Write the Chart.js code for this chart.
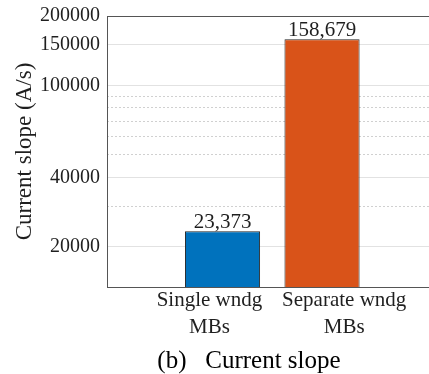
<!DOCTYPE html>
<html><head><meta charset="utf-8">
<script src="https://cdn.jsdelivr.net/npm/chart.js@4"></script>
<style>html,body{margin:0;padding:0;background:#fff;overflow:hidden}</style>
</head><body>
<canvas id="c" width="429" height="374"></canvas>
<script>
// ---- data ----
const categories = [['Single wndg', 'MBs'], ['Separate wndg', 'MBs']];
const slopes = [23373, 158679];
const yTicks = [20000, 40000, 100000, 150000, 200000];
const yMinorTicks = [30000, 50000, 60000, 70000, 80000, 90000];
const yRange = [13400, 200000];
const yTitle = 'Current slope (A/s)';
const caption = '(b)   Current slope';

// ---- styles ----
const SERIF = "'Liberation Serif', 'Times New Roman', serif";
const TXT = '#1f1f1f';
const AXIS = '#555555';
const barColors = ['#0072BD', '#D95319'];

const valueLabels = {
  id: 'valueLabels',
  afterDatasetsDraw(chart) {
    const ctx = chart.ctx;
    const meta = chart.getDatasetMeta(0);
    ctx.save();
    ctx.font = '21px ' + SERIF;
    ctx.fillStyle = TXT;
    ctx.textAlign = 'center';
    ctx.textBaseline = 'alphabetic';
    meta.data.forEach((bar, i) => {
      ctx.fillText(slopes[i].toLocaleString('en-US'), bar.x, bar.y - 3);
    });
    ctx.restore();
  }
};
const captionPlugin = {
  id: 'caption',
  afterDraw(chart) {
    const ctx = chart.ctx;
    ctx.save();
    ctx.font = '25px ' + SERIF;
    ctx.fillStyle = '#000';
    ctx.textAlign = 'center';
    ctx.textBaseline = 'alphabetic';
    ctx.fillText(caption, 249, 368);
    ctx.restore();
  }
};

const catTicks = s => { s.ticks = categories.map((c, i) => ({ value: i + 1 })); };

new Chart(document.getElementById('c'), {
  type: 'bar',
  data: {
    datasets: [{
      data: slopes.map((v, i) => ({ x: i + 1, y: v })),
      backgroundColor: barColors,
      borderColor: '#262626',
      borderWidth: 1,
      barPercentage: 0.755,
      categoryPercentage: 1.0,
      xAxisID: 'x',
      yAxisID: 'y'
    }]
  },
  options: {
    responsive: false,
    animation: false,
    devicePixelRatio: 1,
    layout: { padding: 0 },
    plugins: { legend: { display: false }, tooltip: { enabled: false } },
    scales: {
      x: {
        type: 'linear', display: false, offset: false, min: -0.161, max: 3.075,
        grid: { offset: false },
        afterBuildTicks: catTicks
      },
      xl: {
        type: 'linear', position: 'bottom', offset: false, min: 0.24, max: 2.629,
        afterBuildTicks: catTicks,
        ticks: {
          callback: (v, i) => categories[i],
          font: { family: SERIF, size: 21, lineHeight: 1.286 },
          color: TXT, padding: 0, maxRotation: 0, autoSkip: false
        },
        grid: { display: false, drawTicks: false, offset: false },
        border: { display: true, color: AXIS, width: 1 },
        afterFit: s => { s.height = 87; s.paddingLeft = 0; s.paddingRight = 0; }
      },
      xTop: {
        type: 'linear', position: 'top', offset: false, min: 0, max: 1,
        ticks: { display: false },
        grid: { display: false, drawTicks: false, offset: false },
        border: { display: true, color: AXIS, width: 1 },
        afterFit: s => { s.height = 16; s.paddingLeft = 0; s.paddingRight = 0; }
      },
      y: {
        type: 'logarithmic', position: 'left', min: yRange[0], max: yRange[1],
        afterBuildTicks: s => { s.ticks = yTicks.map(v => ({ value: v, major: true })); },
        ticks: {
          callback: v => String(v),
          font: { family: SERIF, size: 20 },
          color: TXT, padding: 7, autoSkip: false
        },
        grid: {
          color: c => (c.tick && c.tick.value === yRange[1]) ? 'rgba(0,0,0,0)' : '#e2e2e2',
          drawTicks: false
        },
        border: { display: true, color: AXIS, width: 1 },
        title: {
          display: true, text: yTitle,
          font: { family: SERIF, size: 23 }, color: TXT,
          padding: { top: 11, bottom: 0 }
        },
        afterFit: s => { s.width = 107; s.paddingTop = 0; s.paddingBottom = 0; }
      },
      yMinor: {
        type: 'logarithmic', position: 'left', min: yRange[0], max: yRange[1],
        afterBuildTicks: s => { s.ticks = yMinorTicks.map(v => ({ value: v })); },
        ticks: { display: false },
        grid: { color: '#d0d0d0', drawTicks: false },
        border: { display: false, dash: [2, 2] },
        afterFit: s => { s.width = 0; s.paddingTop = 0; s.paddingBottom = 0; }
      }
    }
  },
  plugins: [valueLabels, captionPlugin]
});
</script>
</body></html>
